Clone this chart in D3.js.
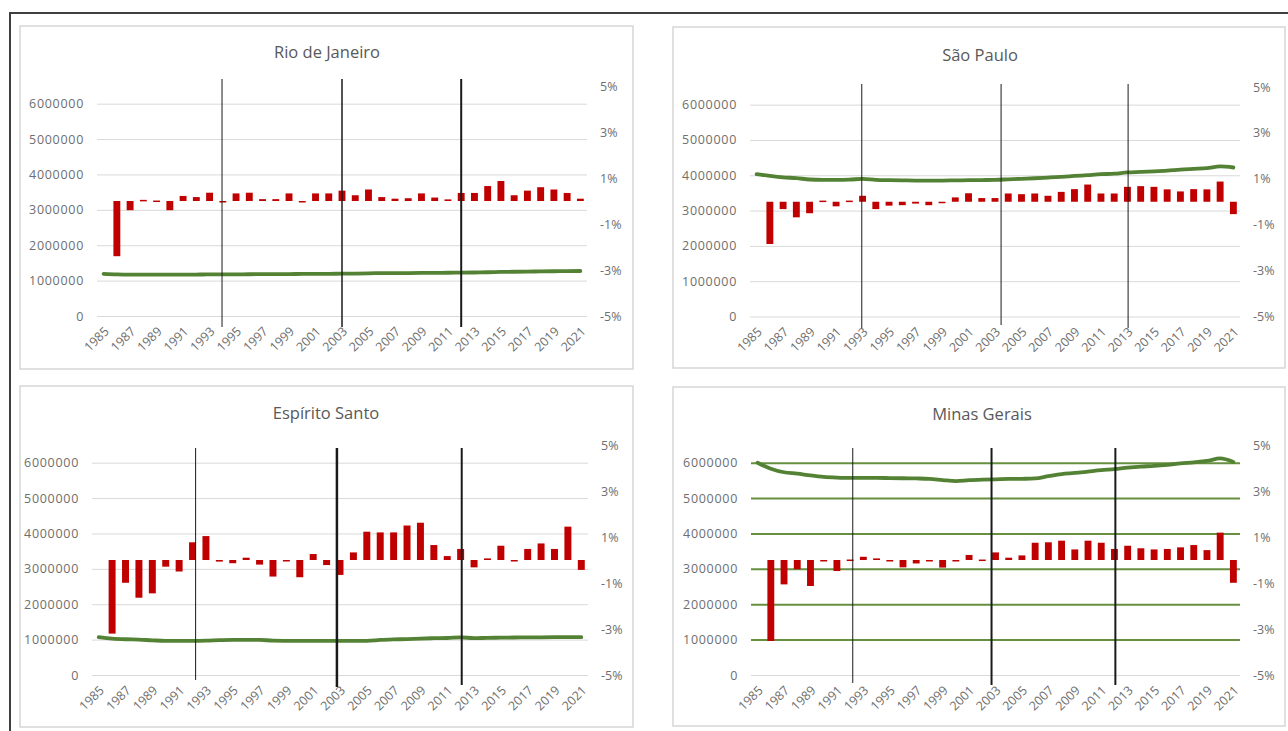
<!DOCTYPE html>
<html><head><meta charset="utf-8">
<script src="https://cdn.jsdelivr.net/npm/d3@7"></script>
<style>body{margin:0;background:#fff;}svg{display:block;}</style>
</head><body>
<svg id="c" width="1288" height="731"></svg>
<script>
// ---------- DATA ----------
const years = [1985,1986,1987,1988,1989,1990,1991,1992,1993,1994,1995,1996,1997,1998,1999,2000,2001,2002,2003,2004,2005,2006,2007,2008,2009,2010,2011,2012,2013,2014,2015,2016,2017,2018,2019,2020,2021];
const xTickYears = [1985,1987,1989,1991,1993,1995,1997,1999,2001,2003,2005,2007,2009,2011,2013,2015,2017,2019,2021];
const leftTicks = [0,1000000,2000000,3000000,4000000,5000000,6000000];
const rightTicks = [-5,-3,-1,1,3,5];
const titles = ["Rio de Janeiro","São Paulo","Espírito Santo","Minas Gerais"];

const rjLevel = [1190000,1175000,1170000,1170000,1170000,1170000,1172000,1172000,1175000,1175000,1178000,1180000,1182000,1184000,1186000,1188000,1190000,1192000,1195000,1200000,1207000,1210000,1212000,1214000,1217000,1220000,1222000,1225000,1230000,1236000,1245000,1250000,1255000,1260000,1265000,1270000,1272000];
const rjGrowth = [null,-2.4,-0.4,0.05,0.02,-0.4,0.22,0.17,0.36,-0.03,0.33,0.36,0.08,0.08,0.33,-0.03,0.33,0.33,0.45,0.25,0.5,0.17,0.1,0.12,0.33,0.15,0.07,0.35,0.35,0.65,0.87,0.25,0.45,0.6,0.5,0.35,0.1];
const rjMarkers = [1993.94,2003,2012];

const spLevel = [4030000,3980000,3940000,3920000,3880000,3870000,3870000,3875000,3900000,3870000,3860000,3855000,3850000,3850000,3850000,3855000,3860000,3865000,3870000,3885000,3900000,3915000,3935000,3955000,3980000,4005000,4030000,4045000,4080000,4095000,4110000,4130000,4160000,4180000,4200000,4250000,4220000];
const spGrowth = [null,-1.84,-0.32,-0.68,-0.5,0.05,-0.2,0.05,0.26,-0.32,-0.17,-0.15,-0.08,-0.15,-0.03,0.19,0.37,0.16,0.16,0.36,0.33,0.36,0.26,0.43,0.55,0.75,0.36,0.36,0.65,0.68,0.65,0.54,0.45,0.55,0.54,0.88,-0.54];
const spMarkers = [1992.94,2003.46,2013.05];

const esLevel = [1070000,1030000,1010000,1000000,980000,965000,965000,965000,970000,985000,995000,995000,995000,970000,965000,963000,963000,963000,963000,965000,965000,990000,1005000,1015000,1030000,1040000,1045000,1065000,1040000,1050000,1055000,1060000,1062000,1065000,1068000,1070000,1070000];
const esGrowth = [null,-3.2,-0.99,-1.64,-1.45,-0.29,-0.5,0.77,1.04,-0.07,-0.14,0.1,-0.2,-0.72,-0.04,-0.75,0.26,-0.22,-0.65,0.33,1.23,1.2,1.2,1.5,1.62,0.65,0.17,0.48,-0.32,0.07,0.62,-0.02,0.48,0.72,0.48,1.45,-0.43];
const esMarkers = [1992.23,2002.77,2012.08];

const mgLevel = [6000000,5830000,5730000,5690000,5640000,5600000,5580000,5570000,5570000,5570000,5565000,5560000,5555000,5545000,5510000,5480000,5505000,5520000,5530000,5540000,5545000,5555000,5620000,5680000,5710000,5750000,5790000,5820000,5860000,5890000,5910000,5940000,5980000,6010000,6050000,6120000,6020000];
const mgGrowth = [null,-3.52,-1.06,-0.4,-1.13,-0.05,-0.48,0.02,0.14,0.07,-0.04,-0.32,-0.15,-0.05,-0.33,-0.04,0.22,0.02,0.33,0.1,0.2,0.75,0.77,0.84,0.46,0.84,0.75,0.48,0.62,0.51,0.46,0.48,0.55,0.65,0.43,1.19,-0.99];
const mgMarkers = [1992.2,2002.7,2012.07];

// ---------- LAYOUT / STYLE ----------
const panels = [
  {title:titles[0], level:rjLevel, growth:rjGrowth, markers:rjMarkers, markW:[1,1.5,2],
   box:[20,26,613,343], x0:97, x1:587, yTop:86, yZero:316, ty:58, tx:327, greenGrid:false, mTop:79, mBot:[327,327,327]},
  {title:titles[1], level:spLevel, growth:spGrowth, markers:spMarkers, markW:[1,1,1],
   box:[673,27,612,341], x0:750, x1:1240, yTop:87, yZero:316.5, ty:61, tx:980, greenGrid:false, mTop:84, mBot:[328,325,328]},
  {title:titles[2], level:esLevel, growth:esGrowth, markers:esMarkers, markW:[1,2.5,2],
   box:[20,386,613,341], x0:92, x1:588, yTop:445, yZero:675, ty:419, tx:326, greenGrid:false, mTop:448, mBot:[680,687,685]},
  {title:titles[3], level:mgLevel, growth:mgGrowth, markers:mgMarkers, markW:[1,2,2],
   box:[673,387,612,339], x0:751, x1:1240, yTop:445, yZero:675, ty:420, tx:982, greenGrid:true, mTop:448, mBot:[683,685,685]}
];

const svg = d3.select("#c");
const FONT = "'Open Sans', 'Noto Sans', sans-serif";
const TXT = "#6e6e6e";

// outer frame
svg.append("rect").attr("x",10).attr("y",13).attr("width",1300).attr("height",740)
  .attr("fill","none").attr("stroke","#3f3f3f").attr("stroke-width",2);

panels.forEach(p => {
  const g = svg.append("g");
  const [bx,by,bw,bh] = p.box;
  g.append("rect").attr("x",bx).attr("y",by).attr("width",bw).attr("height",bh)
    .attr("fill","#fff").attr("stroke","#d6d6d6").attr("stroke-width",1.5);

  g.append("text").attr("x",p.tx).attr("y",p.ty).attr("text-anchor","middle")
    .attr("font-family",FONT).attr("font-size",16.5).attr("fill","#595959").text(p.title);

  const x = d3.scaleBand().domain(years).range([p.x0,p.x1]).paddingInner(0).paddingOuter(0);
  const xl = d3.scaleLinear().domain([years[0]-0.5, years[years.length-1]+0.5]).range([p.x0,p.x1]);
  const yL = d3.scaleLinear().domain([0,6500000]).range([p.yZero,p.yTop]);
  const yR = d3.scaleLinear().domain([-5,5]).range([p.yZero,p.yTop]);
  const W = p.x1-p.x0;

  // gridlines
  const grid = g.append("g").attr("transform",`translate(${p.x0},0)`)
    .call(d3.axisLeft(yL).tickValues(leftTicks).tickSize(-W).tickFormat(""));
  grid.select(".domain").remove();
  grid.selectAll(".tick line")
    .attr("stroke", d => (p.greenGrid && d>0) ? "#66903f" : "#d9d9d9")
    .attr("stroke-width", d => (p.greenGrid && d>0) ? 2 : 1);

  // left axis labels
  const la = g.append("g").attr("transform",`translate(${p.x0},0)`)
    .call(d3.axisLeft(yL).tickValues(leftTicks).tickSize(0).tickPadding(13).tickFormat(d3.format("d")));
  la.select(".domain").remove();
  la.selectAll("text").attr("font-family",FONT).attr("font-size",12.5).attr("letter-spacing","0.7px").attr("fill",TXT);

  // right axis labels
  const ra = g.append("g").attr("transform",`translate(${p.x1},0)`)
    .call(d3.axisRight(yR).tickValues(rightTicks).tickSize(0).tickPadding(13).tickFormat(d => d+"%"));
  ra.select(".domain").remove();
  ra.selectAll("text").attr("font-family",FONT).attr("font-size",12.5).attr("fill",TXT);

  // x axis labels
  const xa = g.append("g").attr("transform",`translate(0,${p.yZero})`)
    .call(d3.axisBottom(x).tickValues(xTickYears).tickSize(0));
  xa.select(".domain").remove();
  xa.selectAll("text").attr("font-family",FONT).attr("font-size",12.5).attr("fill",TXT)
    .attr("text-anchor","end").attr("x",0).attr("y",0).attr("dy","0.35em")
    .attr("transform","translate(3,13) rotate(-45)");

  // bars
  const bw2 = x.bandwidth()*0.52;
  const bd = years.map((yr,i)=>({yr, v:p.growth[i]})).filter(d=>d.v!==null);
  g.append("g").selectAll("rect").data(bd).join("rect")
    .attr("x", d => x(d.yr)+x.bandwidth()/2-bw2/2)
    .attr("width", bw2)
    .attr("y", d => Math.min(yR(0), yR(d.v)))
    .attr("height", d => Math.max(1.5, Math.abs(yR(d.v)-yR(0))))
    .attr("fill","#c00000");

  // level line
  const line = d3.line().x((d,i)=>x(years[i])+x.bandwidth()/2).y(d=>yL(d)).curve(d3.curveMonotoneX);
  g.append("path").datum(p.level).attr("d",line).attr("fill","none")
    .attr("stroke","#548235").attr("stroke-width",3.8).attr("stroke-linecap","round");

  // vertical markers
  p.markers.forEach((m,i) => {
    g.append("line").attr("x1",xl(m)).attr("x2",xl(m)).attr("y1",p.mTop).attr("y2",p.mBot[i])
      .attr("stroke","#1a1a1a").attr("stroke-width",p.markW[i]);
  });
});
</script>
</body></html>
